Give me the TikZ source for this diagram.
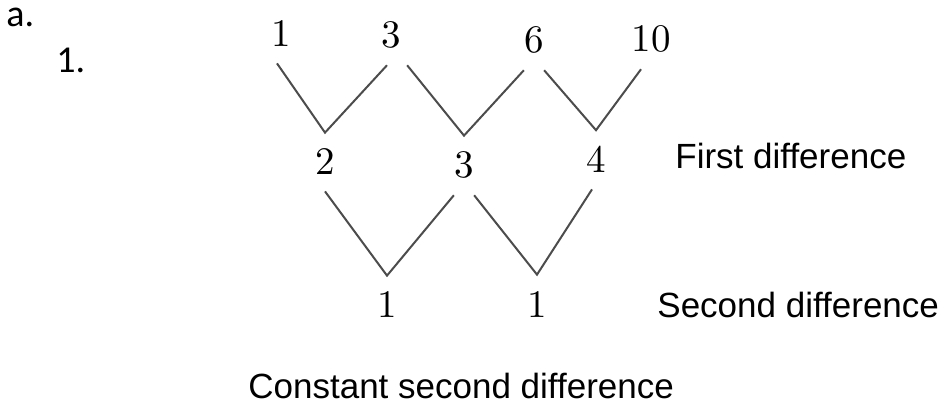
\documentclass[tikz,border=0pt]{standalone}
\usepackage[no-math]{fontspec}
\newfontfamily\arialfont{Liberation Sans}
\newfontfamily\calibrifont{Carlito}
\newfontfamily\numfont{lmroman10-regular}[Extension= .otf]

\begin{document}
\begin{tikzpicture}[x= 0.5pt, y= -0.5pt,
	num/.style= {anchor= base, inner xsep= 0pt, inner ysep= 8pt, font= \numfont\fontsize{19.5}{22}\selectfont},
	lbl/.style= {anchor= base west, inner sep= 0pt, font= \arialfont\fontsize{17.5}{20}\selectfont},
	vline/.style= {line width= 1pt, draw= black!70}]
%	1px = 0.5pt
	\useasboundingbox (0, 0) rectangle (946, 405);
	\node[anchor= base west, inner sep= 0pt, font= \calibrifont\fontsize{19}{22}\selectfont] (itema) at (6, 27) {a.}; %見出し
	\node[anchor= base west, inner sep= 0pt, font= \calibrifont\fontsize{19}{22}\selectfont] (item1) at (56, 73) {1.};
%	数列
	\node[num] (t1) at (281, 47) {1};
	\node[num] (t2) at (391, 48) {3};
	\node[num] (t3) at (534, 53) {6};
	\node[num] (t4) at (651, 52) {10};
%	第一階差
	\node[num] (f1) at (325, 175) {2};
	\node[num] (f2) at (464, 178) {3};
	\node[num] (f3) at (596, 173) {4};
%	第二階差
	\node[num] (s1) at (387, 318) {1};
	\node[num] (s2) at (537, 317) {1};
	\draw[vline] ([xshift= -2pt]t1.south)-- (f1.north)-- ([xshift= -2pt]t2.south); %上のV
	\draw[vline] ([xshift= 3pt]t2.south east)-- (f2.north)-- (t3.south west);
	\draw[vline] (t3.south east)-- (f3.north)-- ([xshift= -5pt]t4.south);
	\draw[vline] (f1.south)-- (s1.north)-- (f2.south west); %下のV
	\draw[vline] (f2.south east)-- (s2.north)-- ([xshift= -2pt]f3.south);
	\node[lbl] (first) at (675, 169) {First difference};
	\node[lbl] (second) at (657, 318) {Second difference};
	\node[lbl] (const) at (248, 398) {Constant second difference};
\end{tikzpicture}
\end{document}
